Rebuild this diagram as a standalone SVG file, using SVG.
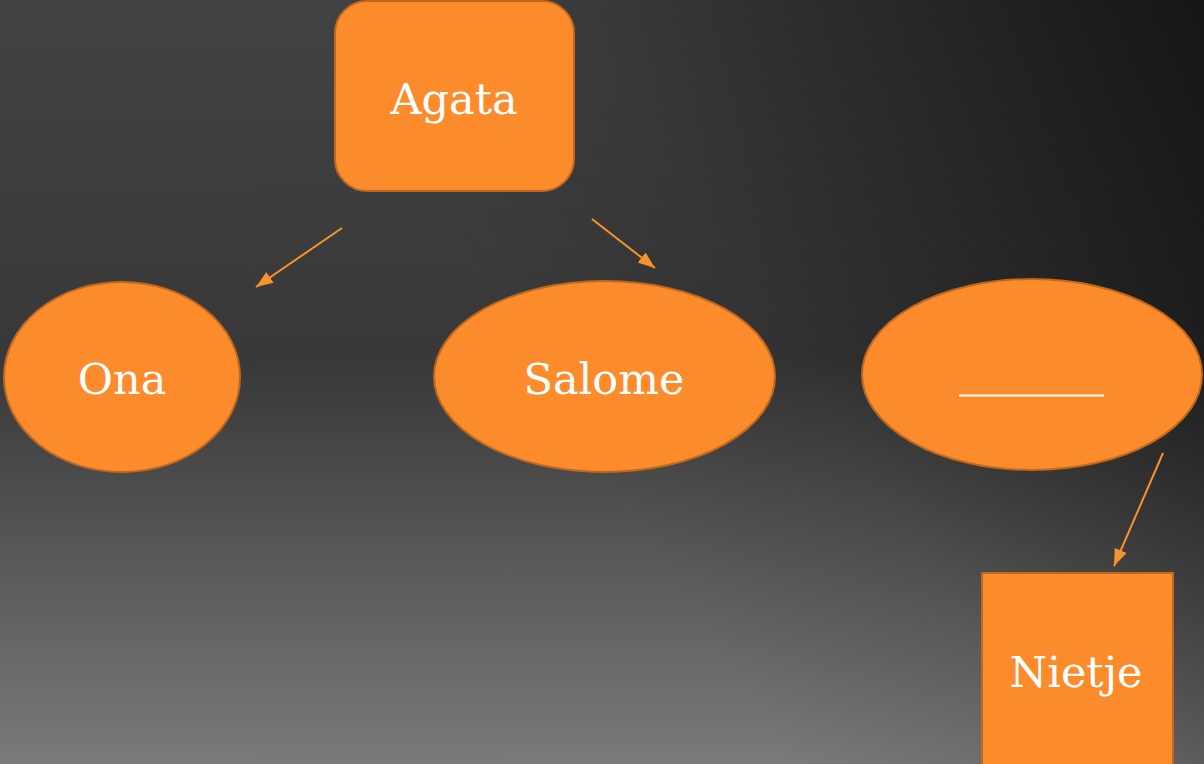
<svg xmlns="http://www.w3.org/2000/svg" width="1204" height="764" viewBox="0 0 1204 764">
  <defs>
    <linearGradient id="bgV" x1="0" y1="0" x2="0" y2="1">
      <stop offset="0" stop-color="#434343"/>
      <stop offset="0.47" stop-color="#383838"/>
      <stop offset="1" stop-color="#7a7a7a"/>
    </linearGradient>
    <linearGradient id="bgShade" x1="560" y1="420" x2="1204" y2="0" gradientUnits="userSpaceOnUse">
      <stop offset="0" stop-color="#000" stop-opacity="0"/>
      <stop offset="0.3" stop-color="#000" stop-opacity="0.12"/>
      <stop offset="1" stop-color="#000" stop-opacity="0.68"/>
    </linearGradient>
    <marker id="arrowL" viewBox="0 0 10 10" refX="10" refY="5" markerWidth="17" markerHeight="13" markerUnits="userSpaceOnUse" orient="auto" preserveAspectRatio="none">
      <path d="M0,0 L10,5 L0,10 z" fill="#f7922e"/>
    </marker>
  </defs>
  <style>
    .shape { fill: #fc8c2b; stroke: #bf681e; stroke-width: 2; }
    .label { fill: #ffffff; font-family: "DejaVu Serif", "Liberation Serif", serif; font-size: 43px; text-anchor: middle; }
    .conn { stroke: #f7922e; stroke-width: 2; fill: none; marker-end: url(#arrowL); }
  </style>

  <!-- background -->
  <rect x="0" y="0" width="1204" height="764" fill="url(#bgV)"/>
  <rect x="0" y="0" width="1204" height="764" fill="url(#bgShade)"/>

  <!-- connectors -->
  <g id="connectors">
    <line class="conn" x1="342" y1="228" x2="256" y2="287"/>
    <line class="conn" x1="592" y1="219" x2="655" y2="268"/>
    <line class="conn" x1="1163" y1="453" x2="1114" y2="566"/>
  </g>

  <g id="node-agata">
    <rect class="shape" x="335" y="1" width="239" height="190" rx="32" ry="32"/>
    <text class="label" x="454" y="114">Agata</text>
  </g>

  <g id="node-ona">
    <ellipse class="shape" cx="122" cy="377" rx="118" ry="95"/>
    <text class="label" x="122" y="394">Ona</text>
  </g>

  <g id="node-salome">
    <ellipse class="shape" cx="604.5" cy="376.5" rx="170.5" ry="95.5"/>
    <text class="label" x="604" y="394">Salome</text>
  </g>

  <g id="node-blank">
    <ellipse class="shape" cx="1032" cy="374.5" rx="170" ry="95.5"/>
    <line x1="959" y1="395.5" x2="1104" y2="395.5" stroke="#ffffff" stroke-width="2"/>
  </g>

  <g id="node-nietje">
    <rect class="shape" x="982" y="573" width="191" height="200"/>
    <text class="label" x="1076" y="687">Nietje</text>
  </g>
</svg>
